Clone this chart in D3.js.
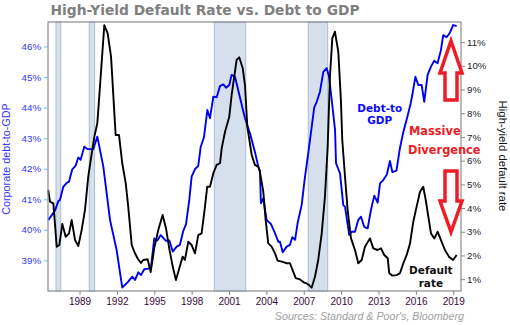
<!DOCTYPE html>
<html>
<head>
<meta charset="utf-8">
<script src="https://cdn.jsdelivr.net/npm/d3@7"></script>
<style>
  body { margin: 0; background: #fff; }
  svg { display: block; }
</style>
</head>
<body>
<div id="chart"></div>
<script>
// corporate debt-to-GDP (%), left axis
var debtYears = [
  1986.49, 1987.03, 1987.3, 1987.43, 1987.7, 1987.97, 1988.16, 1988.42, 1988.69, 1988.9,
  1989.09, 1989.38, 1989.66, 1990.1, 1990.43, 1990.91, 1991.45, 1991.98, 1992.43, 1992.87,
  1993.24, 1993.45, 1993.72, 1993.93, 1994.2, 1994.52, 1994.74, 1995.0, 1995.24, 1995.52,
  1995.94, 1996.21, 1996.48, 1996.8, 1997.06, 1997.33, 1997.55, 1997.81, 1998.0, 1998.27,
  1998.53, 1998.73, 1998.99, 1999.26, 1999.47, 1999.74, 2000.01, 2000.28, 2000.54, 2000.76,
  2001.02, 2001.21, 2001.48, 2001.83, 2002.28, 2002.68, 2003.08, 2003.35, 2003.48, 2003.56,
  2003.75, 2004.02, 2004.37, 2004.69, 2004.96, 2005.09, 2005.31, 2005.63, 2005.89, 2006.08,
  2006.3, 2006.51, 2006.83, 2007.1, 2007.36, 2007.64, 2007.84, 2008.04, 2008.3, 2008.57,
  2008.84, 2009.02, 2009.29, 2009.51, 2009.59, 2009.91, 2010.17, 2010.31, 2010.65, 2010.84,
  2011.11, 2011.37, 2011.59, 2011.85, 2012.13, 2012.39, 2012.66, 2012.93, 2013.12, 2013.38,
  2013.66, 2013.92, 2014.11, 2014.44, 2014.72, 2014.99, 2015.28, 2015.57, 2015.71, 2015.96,
  2016.19, 2016.46, 2016.67, 2016.94, 2017.21, 2017.47, 2017.74, 2018.01, 2018.19, 2018.46,
  2018.73, 2018.99, 2019.27
];
var debtValues = [
  40.32, 40.63, 40.94, 40.98, 41.41, 41.54, 41.58, 41.98, 42.1, 42.37,
  42.29, 42.72, 42.64, 42.64, 43.05, 42.07, 40.32, 39.34, 38.11, 38.29,
  38.47, 38.36, 38.61, 38.52, 38.71, 38.73, 38.78, 39.72, 39.65, 39.83,
  39.64, 39.65, 39.29, 39.45, 39.51, 39.97, 40.19, 40.98, 41.74, 41.99,
  42.09, 42.72, 43.03, 43.92, 43.65, 44.36, 44.34, 44.71, 44.76, 44.65,
  44.74, 45.07, 45.01, 44.41, 43.65, 43.16, 42.55, 42.07, 41.93, 40.87,
  41.03, 40.32, 40.19, 39.89, 39.61, 39.61, 39.27, 39.45, 39.51, 39.76,
  39.67, 40.23, 40.81, 41.74, 42.51, 43.38, 44.01, 44.19, 44.52, 45.17,
  45.29, 45.03, 44.08, 43.27, 42.18, 41.85, 40.81, 40.76, 39.83, 39.94,
  39.94, 40.32, 40.43, 40.1, 40.05, 40.65, 41.12, 40.89, 41.52, 41.63,
  41.8, 42.25, 41.89, 41.94, 42.68, 43.2, 43.64, 44.12, 44.41, 45.01,
  44.74, 44.74, 44.19, 45.07, 45.34, 45.53, 45.45, 45.88, 46.37, 46.3,
  46.45, 46.7, 46.67
];

// high-yield default rate (%), right axis
var defaultYears = [
  1986.49, 1986.63, 1986.9, 1987.17, 1987.38, 1987.62, 1987.89, 1988.16, 1988.37, 1988.64,
  1988.9, 1989.17, 1989.44, 1989.7, 1989.98, 1990.19, 1990.43, 1990.64, 1990.83, 1990.99,
  1991.26, 1991.53, 1991.9, 1992.17, 1992.43, 1992.71, 1992.91, 1993.19, 1993.45, 1993.69,
  1993.93, 1994.12, 1994.47, 1994.71, 1995.0, 1995.32, 1995.67, 1995.94, 1996.2, 1996.48,
  1996.74, 1997.01, 1997.28, 1997.46, 1997.73, 1998.0, 1998.27, 1998.53, 1998.8, 1999.07,
  1999.25, 1999.47, 1999.74, 2000.01, 2000.28, 2000.41, 2000.68, 2001.02, 2001.21, 2001.4,
  2001.61, 2001.82, 2002.1, 2002.28, 2002.47, 2002.82, 2003.08, 2003.35, 2003.48, 2003.75,
  2003.94, 2004.15, 2004.42, 2004.69, 2004.9, 2005.23, 2005.63, 2005.89, 2006.16, 2006.35,
  2006.7, 2007.04, 2007.23, 2007.42, 2007.63, 2007.9, 2008.16, 2008.44, 2008.7, 2008.92,
  2009.1, 2009.29, 2009.5, 2009.77, 2009.98, 2010.09, 2010.31, 2010.52, 2010.79, 2011.11,
  2011.37, 2011.65, 2011.91, 2012.31, 2012.58, 2012.93, 2013.2, 2013.46, 2013.74, 2013.86,
  2014.1, 2014.46, 2014.72, 2014.99, 2015.26, 2015.53, 2015.79, 2016.06, 2016.33, 2016.59,
  2016.79, 2017.0, 2017.21, 2017.48, 2017.75, 2018.01, 2018.33, 2018.65, 2018.99, 2019.27
];
var defaultValues = [
  4.76, 4.27, 4.2, 2.37, 2.44, 3.33, 2.79, 2.93, 3.5, 2.65,
  2.4, 3.07, 3.92, 5.32, 6.31, 7.01, 7.58, 9.12, 10.53, 11.72,
  11.37, 10.39, 7.08, 7.08, 5.89, 5.04, 4.06, 2.44, 2.09, 1.85,
  1.68, 1.81, 1.84, 1.3, 2.31, 3.07, 3.71, 3.15, 2.3, 1.53,
  0.96, 1.46, 1.95, 1.81, 2.58, 2.44, 2.09, 2.86, 2.93, 4.06,
  4.9, 4.9, 5.47, 5.82, 5.89, 6.52, 7.22, 7.85, 8.77, 9.47,
  10.25, 10.36, 9.9, 9.19, 7.43, 6.24, 5.82, 5.74, 5.53, 4.69,
  3.5, 2.51, 2.37, 2.09, 1.78, 1.74, 1.67, 1.67, 1.31, 1.04,
  0.99, 0.85, 0.82, 0.75, 0.64, 1.1, 1.81, 2.93, 4.48, 6.59,
  9.54, 11.16, 11.44, 10.6, 8.56, 6.87, 5.32, 3.92, 2.72, 2.23,
  1.67, 1.81, 2.37, 2.72, 2.3, 2.23, 2.3, 2.02, 1.88, 1.25,
  1.15, 1.17, 1.25, 1.67, 2.02, 2.51, 3.42, 4.06, 4.69, 4.9,
  4.34, 3.63, 2.93, 2.72, 3.0, 2.65, 2.23, 1.95, 1.81, 2.02
];

// recession periods (shaded)
var recessionStart = [1987.11, 1989.78, 1999.82, 2007.36];
var recessionEnd = [1987.49, 1990.21, 2002.34, 2008.92];

var yearTicks = [1989, 1992, 1995, 1998, 2001, 2004, 2007, 2010, 2013, 2016, 2019];
var debtTicks = [39, 40, 41, 42, 43, 44, 45, 46];
var defaultTicks = [1, 2, 3, 4, 5, 6, 7, 8, 9, 10, 11];

var margin = { top: 22, right: 49, bottom: 34, left: 48 },
  width = 510 - margin.left - margin.right,
  height = 325 - margin.top - margin.bottom;

var svg = d3
  .select("#chart")
  .append("svg")
  .attr("width", 510)
  .attr("height", 325);

var g = svg
  .append("g")
  .attr("transform", "translate(" + margin.left + "," + margin.top + ")");

var x = d3.scaleLinear().domain([1986.47, 2019.62]).range([0, width]);
var yLeft = d3.scaleLinear().domain([38, 46.8]).range([height, 0]);
var yRight = d3.scaleLinear().domain([0.5, 11.85]).range([height, 0]);

// title
svg
  .append("text")
  .attr("x", 50.5)
  .attr("y", 15)
  .style("font-family", "DejaVu Sans, Verdana, sans-serif")
  .style("font-weight", "bold")
  .style("font-size", "13.8px")
  .style("fill", "#7f7f7f")
  .text("High-Yield Default Rate vs. Debt to GDP");

// recession bands
g.selectAll(".rec")
  .data(recessionStart)
  .enter()
  .append("rect")
  .attr("class", "rec")
  .attr("x", (d) => x(d))
  .attr("y", 0)
  .attr("width", (d, i) => x(recessionEnd[i]) - x(d))
  .attr("height", height)
  .style("fill", "#d6e0ec")
  .style("stroke", "#a7bdd6")
  .style("stroke-width", 1);

// lines
var debtLine = d3
  .line()
  .x((d) => x(d[0]))
  .y((d) => yLeft(d[1]));
var defaultLine = d3
  .line()
  .x((d) => x(d[0]))
  .y((d) => yRight(d[1]));

g.append("path")
  .datum(d3.zip(debtYears, debtValues))
  .attr("d", debtLine)
  .style("fill", "none")
  .style("stroke", "#0000f0")
  .style("stroke-width", 1.9)
  .style("stroke-linejoin", "round");

g.append("path")
  .datum(d3.zip(defaultYears, defaultValues))
  .attr("d", defaultLine)
  .style("fill", "none")
  .style("stroke", "#000")
  .style("stroke-width", 1.9)
  .style("stroke-linejoin", "round");

// frame
g.append("rect")
  .attr("width", width)
  .attr("height", height)
  .style("fill", "none")
  .style("stroke", "#8a8a8a")
  .style("stroke-width", 1.2);

// left axis
var leftAxis = g
  .append("g")
  .call(d3.axisLeft(yLeft).tickValues(debtTicks).tickSize(4).tickPadding(3).tickFormat((d) => d + "%"));
leftAxis.select(".domain").remove();
leftAxis.selectAll("line").style("stroke", "#5cc3f2");
leftAxis
  .selectAll("text")
  .style("font-family", "Liberation Sans, Arial, sans-serif")
  .style("font-size", "9.7px")
  .style("fill", "#3434ff");

// right axis
var rightAxis = g
  .append("g")
  .attr("transform", "translate(" + width + ",0)")
  .call(d3.axisRight(yRight).tickValues(defaultTicks).tickSize(4).tickPadding(2).tickFormat((d) => d + "%"));
rightAxis.select(".domain").remove();
rightAxis.selectAll("line").style("stroke", "#8a8a8a");
rightAxis
  .selectAll("text")
  .style("font-family", "Liberation Sans, Arial, sans-serif")
  .style("font-size", "9.7px")
  .style("fill", "#222");

// bottom axis
var bottomAxis = g
  .append("g")
  .attr("transform", "translate(0," + height + ")")
  .call(d3.axisBottom(x).tickValues(yearTicks).tickSize(4).tickPadding(3).tickFormat(d3.format("d")));
bottomAxis.select(".domain").remove();
bottomAxis.selectAll("line").style("stroke", "#8a8a8a");
bottomAxis
  .selectAll("text")
  .style("font-family", "Liberation Sans, Arial, sans-serif")
  .style("font-size", "10px")
  .style("fill", "#3c0a3c");

// axis titles
svg
  .append("text")
  .attr("transform", "translate(10,159) rotate(-90)")
  .attr("text-anchor", "middle")
  .style("font-family", "Liberation Sans, Arial, sans-serif")
  .style("font-size", "10.8px")
  .style("fill", "#3434ff")
  .text("Corporate debt-to-GDP");

svg
  .append("text")
  .attr("transform", "translate(499,156) rotate(90)")
  .attr("text-anchor", "middle")
  .style("font-family", "Liberation Sans, Arial, sans-serif")
  .style("font-size", "11.4px")
  .style("fill", "#111")
  .text("High-yield default rate");

// series labels
var debtLabel = g
  .append("text")
  .attr("text-anchor", "middle")
  .style("font-family", "DejaVu Sans, Verdana, sans-serif")
  .style("font-weight", "bold")
  .style("font-size", "10.5px")
  .style("fill", "#0a0aff");
debtLabel.append("tspan").attr("x", x(2013.1)).attr("y", yLeft(43.86)).text("Debt-to");
debtLabel.append("tspan").attr("x", x(2013.1)).attr("dy", 12.5).text("GDP");

var defLabel = g
  .append("text")
  .attr("text-anchor", "middle")
  .style("font-family", "DejaVu Sans, Verdana, sans-serif")
  .style("font-weight", "bold")
  .style("font-size", "10.5px")
  .style("fill", "#111");
defLabel.append("tspan").attr("x", x(2017.2)).attr("y", yRight(1.22)).text("Default");
defLabel.append("tspan").attr("x", x(2017.2)).attr("dy", 13).text("rate");

var divLabel = svg
  .append("text")
  .style("font-family", "DejaVu Sans, Verdana, sans-serif")
  .style("font-weight", "bold")
  .style("font-size", "11.4px")
  .style("fill", "#ee1c25");
divLabel.append("tspan").attr("x", 409).attr("y", 135).text("Massive");
divLabel.append("tspan").attr("x", 408).attr("dy", 18.5).text("Divergence");

// hollow arrows
var arrowUp = [[0, 41], [11, 73], [6, 73], [6, 100], [-6, 100], [-6, 73], [-11, 73]];
var arrowDown = [[0, 232], [11, 201], [6, 201], [6, 171], [-6, 171], [-6, 201], [-11, 201]];
[arrowUp, arrowDown].forEach(function (pts) {
  svg
    .append("path")
    .attr("d", d3.line()(pts.map((p) => [451 + p[0], p[1]])) + "Z")
    .style("fill", "#fff")
    .style("stroke", "#ee1c25")
    .style("stroke-width", 3.5)
    .style("stroke-linejoin", "miter");
});

// source
svg
  .append("text")
  .attr("x", 464)
  .attr("y", 320)
  .attr("text-anchor", "end")
  .style("font-family", "Liberation Sans, Arial, sans-serif")
  .style("font-style", "italic")
  .style("font-size", "10.7px")
  .style("fill", "#a0a0a0")
  .text("Sources: Standard & Poor's, Bloomberg");
</script>
</body>
</html>
